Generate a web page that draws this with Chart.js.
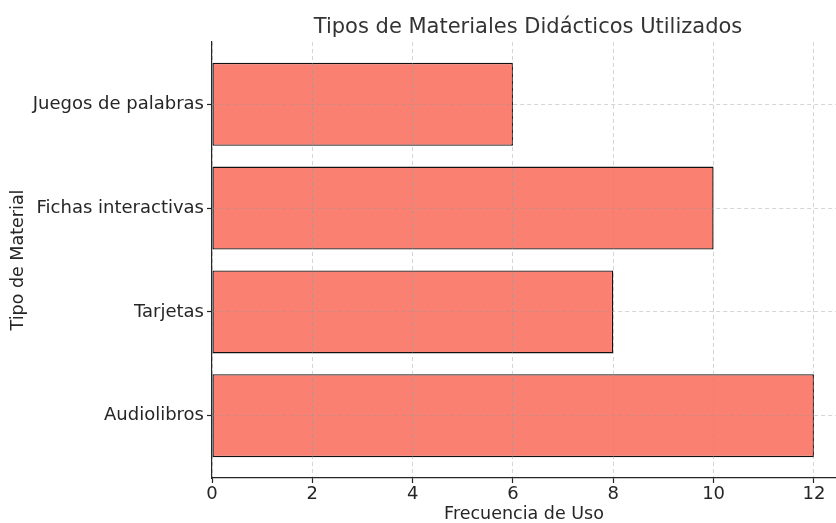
<!DOCTYPE html>
<html><head><meta charset="utf-8">
<script src="https://cdn.jsdelivr.net/npm/chart.js@4.4.1/dist/chart.umd.min.js"></script>
<style>html,body{margin:0;padding:0;background:#fff}#wrap{width:836px;height:523px}</style>
</head><body><div id="wrap"><canvas id="c" width="836" height="523"></canvas></div>
<script>
const categories = ["Audiolibros", "Tarjetas", "Fichas interactivas", "Juegos de palabras"];
const values = [12, 8, 10, 6];
const xTicks = [0, 2, 4, 6, 8, 10, 12];
const titleText = "Tipos de Materiales Didácticos Utilizados";
const xTitle = "Frecuencia de Uso";
const yTitle = "Tipo de Material";

const font = "'DejaVu Sans', sans-serif";
Chart.defaults.font.family = font;
Chart.defaults.color = '#262626';

const titlePlugin = {
  id: 'axTitle',
  afterDraw(chart) {
    const ctx = chart.ctx;
    const xs = chart.scales.x;
    const cx = xs.getPixelForValue(6.3);
    ctx.save();
    ctx.font = "21px " + font;
    ctx.fillStyle = '#333';
    ctx.textAlign = 'center';
    ctx.textBaseline = 'middle';
    ctx.fillText(titleText, cx, 28);
    ctx.restore();
  }
};

const gridOpts = { color: 'rgba(150,150,150,0.5)', lineWidth: 0.8, drawTicks: true, tickLength: 5, tickColor: '#262626', tickBorderDash: [], tickWidth: 1.2, offset: false, z: 1 };
const borderOpts = { display: true, color: '#262626', width: 1.2, dash: [4, 3], z: 2 };

new Chart(document.getElementById('c'), {
  type: 'bar',
  data: {
    datasets: [{
      data: categories.map((c, i) => ({ y: i, x: values[i] })),
      backgroundColor: '#FA8072',
      borderColor: '#111111',
      borderWidth: 1.4,
      borderSkipped: false,
      barPercentage: 0.8,
      categoryPercentage: 1.0
    }]
  },
  plugins: [titlePlugin],
  options: {
    indexAxis: 'y',
    responsive: false,
    animation: false,
    layout: { padding: { top: 42, right: 0, bottom: 0, left: 8 } },
    plugins: {
      legend: { display: false },
      tooltip: { enabled: false },
      title: { display: false }
    },
    scales: {
      x: {
        type: 'linear', min: 0, max: 12.44, offset: false,
        afterBuildTicks: s => { s.ticks = xTicks.map(v => ({ value: v })); },
        afterFit: s => { s.height = 45; },
        border: borderOpts,
        grid: gridOpts,
        ticks: { font: { size: 18 }, color: '#262626', padding: 1, maxRotation: 0 },
        title: { display: true, text: xTitle, font: { size: 17.5 }, color: '#262626', padding: { top: 0, bottom: -2 } }
      },
      y: {
        type: 'linear', min: -0.6, max: 3.6, offset: false,
        afterBuildTicks: s => { s.ticks = categories.map((c, i) => ({ value: i })); },
        afterFit: s => { s.width = 204; },
        border: borderOpts,
        grid: gridOpts,
        ticks: { font: { size: 18 }, color: '#262626', padding: 3, callback: v => categories[Math.round(v)] ?? '' },
        title: { display: true, text: yTitle, font: { size: 17.5 }, color: '#262626', padding: { top: 0, bottom: 0 } }
      }
    }
  }
});
</script></body></html>
